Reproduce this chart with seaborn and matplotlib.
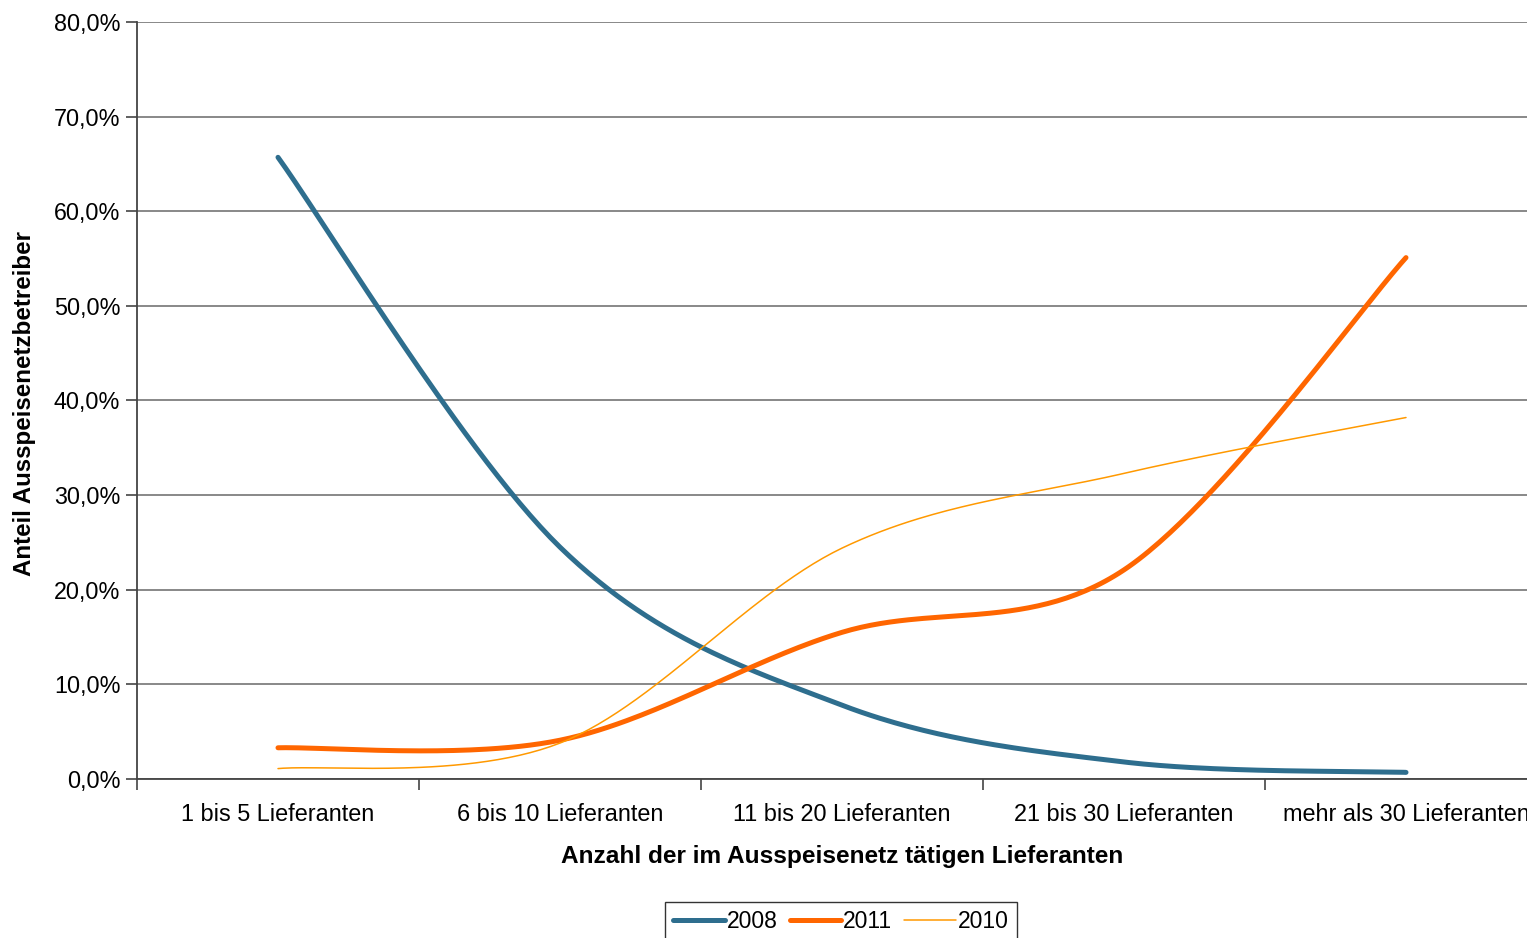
import numpy as np
import pandas as pd
import matplotlib
matplotlib.use("Agg")
import matplotlib.pyplot as plt
from matplotlib.ticker import FuncFormatter, FixedLocator
import seaborn as sns

categories = ["1 bis 5 Lieferanten", "6 bis 10 Lieferanten", "11 bis 20 Lieferanten",
              "21 bis 30 Lieferanten", "mehr als 30 Lieferanten"]
v2008 = [65.7, 24.5, 7.8, 1.8, 0.7]
v2011 = [3.3, 4.1, 15.5, 22.1, 55.1]
v2010 = [1.1, 3.8, 24.4, 32.3, 38.2]

series = [("2008", v2008, "#2E6E8E", 3.6),
          ("2011", v2011, "#FF6600", 3.6),
          ("2010", v2010, "#FF9900", 1.1)]


def smooth(vals, n=60):
    """Excel-like smoothed line: cubic Bezier between points, control = +-(P[i+1]-P[i-1])/6."""
    x = np.arange(len(vals), dtype=float)
    y = np.asarray(vals, dtype=float)
    P = np.column_stack([x, y])
    pts = []
    for i in range(len(P) - 1):
        p0 = P[i - 1] if i > 0 else P[i]
        p1, p2 = P[i], P[i + 1]
        p3 = P[i + 2] if i + 2 < len(P) else P[i + 1]
        c1 = p1 + (p2 - p0) / 6.0
        c2 = p2 - (p3 - p1) / 6.0
        t = np.linspace(0, 1, n)[:, None]
        seg = ((1 - t) ** 3) * p1 + 3 * ((1 - t) ** 2) * t * c1 + 3 * (1 - t) * t ** 2 * c2 + t ** 3 * p2
        pts.append(seg if i == 0 else seg[1:])
    pts = np.vstack(pts)
    return pts[:, 0], pts[:, 1]


sns.set_theme(style="white")
plt.rcParams['font.family'] = ['Liberation Sans', 'DejaVu Sans']
plt.rcParams['text.color'] = 'black'
plt.rcParams['axes.labelcolor'] = 'black'
plt.rcParams['xtick.color'] = 'black'
plt.rcParams['ytick.color'] = 'black'

fig = plt.figure(figsize=(15.27, 9.38), dpi=100)
W, H = 1527, 938
left, right, top, bottom = 137, 1547, 22, 779
ax = fig.add_axes([left / W, 1 - bottom / H, (right - left) / W, (bottom - top) / H])

for name, vals, col, lw in series:
    xs, ys = smooth(vals)
    df = pd.DataFrame({"x": xs, "y": ys})
    sns.lineplot(data=df, x="x", y="y", ax=ax, color=col, linewidth=lw, sort=False,
                 label=name, solid_capstyle="round", estimator=None)

ax.set_xlim(-0.5, len(categories) - 0.5)
ax.set_ylim(0, 80)
ax.set_yticks(np.arange(0, 81, 10))
ax.yaxis.set_major_formatter(FuncFormatter(lambda v, p: f"{v:.1f}%".replace(".", ",")))
ax.grid(axis="y", color="#7f7f7f", linewidth=1.3)
ax.grid(axis="x", visible=False)
ax.set_axisbelow(True)

ax.set_xticks(range(len(categories)))
ax.set_xticklabels(categories)
ax.xaxis.set_minor_locator(FixedLocator(np.arange(-0.5, len(categories), 1.0)))
ax.tick_params(axis="x", which="major", length=0, pad=17, labelsize=16.9, labelcolor="black")
ax.tick_params(axis="x", which="minor", length=8, width=1.2, color="#444444", direction="out", bottom=True)
ax.tick_params(axis="y", which="major", length=8, width=1.2, color="#444444", direction="out",
               left=True, labelsize=16.8, pad=4, labelcolor="black")

for s in ["top", "right"]:
    ax.spines[s].set_visible(False)
ax.spines["left"].set_color("#444444")
ax.spines["left"].set_linewidth(1.3)
ax.spines["bottom"].set_color("#444444")
ax.spines["bottom"].set_linewidth(1.3)

ax.set_xlabel("")
ax.set_ylabel("")
fig.text(842 / W, 1 - 856 / H, "Anzahl der im Ausspeisenetz tätigen Lieferanten",
         ha="center", va="center", fontsize=17.6, fontweight="bold", color="black")
fig.text(25 / W, 1 - 404 / H, "Anteil Ausspeisenetzbetreiber", rotation=90,
         ha="center", va="center", fontsize=17.4, fontweight="bold", color="black")

if ax.legend_:
    ax.legend_.remove()
handles, labels = ax.get_legend_handles_labels()
leg = fig.legend(handles, labels, loc="upper center", bbox_to_anchor=(841 / W, 1 - 902 / H),
                 ncol=3, frameon=True, fancybox=False, fontsize=16.5, handlelength=2.25,
                 handletextpad=0.1, columnspacing=0.5, borderpad=0.35, borderaxespad=0,
                 labelcolor="black")
leg.get_frame().set_edgecolor("black")
leg.get_frame().set_linewidth(1.0)

fig.savefig("out.png", dpi=100)
